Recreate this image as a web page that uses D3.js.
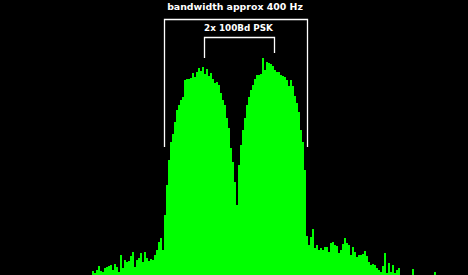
<!DOCTYPE html>
<html>
<head>
<meta charset="utf-8">
<script src="https://cdn.jsdelivr.net/npm/d3@7"></script>
<style>
  html, body { margin: 0; padding: 0; background: #000; }
  svg { display: block; }
</style>
</head>
<body>
<div id="chart"></div>
<script>
/**
 * CONSTANTS
 * */
const width = 468,
  height = 275;

// spectrum: one value per frequency bin (level above floor), bins start at firstBin
const firstBin = 46;
const levels = [
  4, 2, 5, 9, 4, 3, 7, 8, 9, 10, 5, 11, 8, 3, 20, 7, 15, 13, 14, 19,
  23, 8, 15, 17, 22, 13, 23, 17, 14, 16, 15, 20, 25, 33, 37, 25,
  60, 90, 115, 133, 141, 153, 165, 170, 175, 178, 195, 196, 196, 197,
  202, 198, 203, 207, 204, 208, 201, 206, 199, 202, 196, 192, 193, 190,
  182, 175, 170, 157, 147, 127, 113, 93, 70, 110, 130, 145, 157, 170,
  178, 185, 190, 196, 200, 200, 201, 217, 205, 213, 212, 211, 209, 205,
  203, 203, 200, 199, 198, 195, 189, 195, 189, 179, 172, 163, 145, 133,
  105, 39, 30, 38, 46, 27, 30, 25, 27, 25, 28, 28, 23, 32, 33, 30,
  29, 22, 25, 31, 37, 32, 30, 20, 28, 23, 18, 20, 20, 21, 24, 19,
  13, 10, 11, 10, 7, 5, 3, 9, 22, 2, 12, 3, 10, 2, 5, 7,
  0, 0, 0, 0, 0, 0, 6, 0, 0, 0, 0, 0, 0, 0, 0, 0, 0, 3
];

// annotations, in bin / level units
const titleLabel = "bandwidth approx 400 Hz";
const innerLabel = "2x 100Bd PSK";
const outerBracket = { from: 81.75, to: 153.25, top: 256, leftEnd: 128, rightEnd: 128 };
const innerBracket = { from: 101.75, to: 136.75, top: 238, leftEnd: 217, rightEnd: 222 };

/**
 * SCALES
 * */
const x = d3.scaleLinear().domain([0, 234]).range([0, width]);
const y = d3.scaleLinear().domain([0, 275]).range([height, 0]);

const svg = d3.select("#chart")
  .append("svg")
  .attr("width", width)
  .attr("height", height)
  .style("background", "#000");

// + SPECTRUM BARS
svg.selectAll("rect.bin")
  .data(levels)
  .join("rect")
  .attr("class", "bin")
  .attr("x", (d, i) => x(firstBin + i))
  .attr("width", x(1) - x(0))
  .attr("y", d => y(d))
  .attr("height", d => y(0) - y(d))
  .attr("fill", "#00ff00")
  .attr("shape-rendering", "crispEdges");

// + BRACKETS
function bracket(b) {
  const x0 = Math.round(x(b.from)) + 0.5,
    x1 = Math.round(x(b.to)) + 0.5,
    yt = Math.round(y(b.top)) + 0.5;
  return `M${x0},${y(b.leftEnd)}V${yt}H${x1}V${y(b.rightEnd)}`;
}
svg.selectAll("path.bracket")
  .data([outerBracket, innerBracket])
  .join("path")
  .attr("class", "bracket")
  .attr("d", bracket)
  .attr("fill", "none")
  .attr("stroke", "#fff")
  .attr("stroke-width", 1.3);

// + LABELS
const labels = svg.selectAll("text.label")
  .data([
    { text: titleLabel, b: outerBracket, gap: 9, w: 136 },
    { text: innerLabel, b: innerBracket, gap: 6, w: 69 }
  ])
  .join("text")
  .attr("class", "label")
  .attr("x", d => (x(d.b.from) + x(d.b.to)) / 2)
  .attr("y", d => y(d.b.top) - d.gap)
  .attr("text-anchor", "middle")
  .attr("fill", "#fff")
  .attr("font-family", "DejaVu Sans, Verdana, sans-serif")
  .attr("font-weight", "bold")
  .attr("font-size", 9)
  .text(d => d.text);

// fit label widths to the original
labels.each(function(d) {
  const len = this.getComputedTextLength();
  d3.select(this).attr("font-size", 9 * d.w / len);
});
</script>
</body>
</html>
